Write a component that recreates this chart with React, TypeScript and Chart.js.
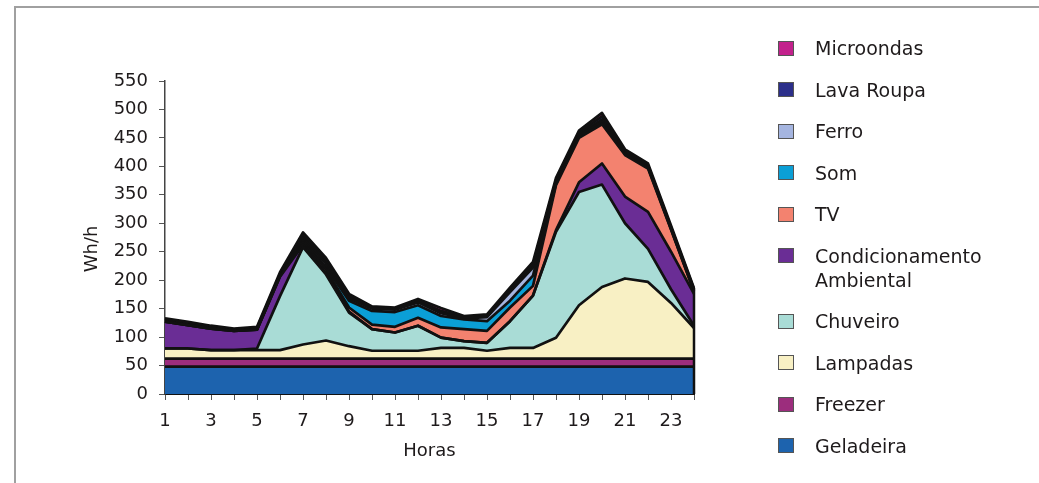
import React, { useEffect, useRef } from 'react';
import { Chart, registerables } from 'chart.js';

Chart.register(...registerables);

// ---- data ----
const hours = ['1', '2', '3', '4', '5', '6', '7', '8', '9', '10', '11', '12', '13', '14', '15', '16', '17', '18', '19', '20', '21', '22', '23', '24'];
const xTickLabels = ['1', '', '3', '', '5', '', '7', '', '9', '', '11', '', '13', '', '15', '', '17', '', '19', '', '21', '', '23', ''];
const yMin = 0;
const yMax = 550;
const yStep = 50;

const geladeira = [48, 48, 48, 48, 48, 48, 48, 48, 48, 48, 48, 48, 48, 48, 48, 48, 48, 48, 48, 48, 48, 48, 48, 48];
const freezer = [14, 14, 14, 14, 14, 14, 14, 14, 14, 14, 14, 14, 14, 14, 14, 14, 14, 14, 14, 14, 14, 14, 14, 14];
const lampadas = [18, 18, 15, 15, 15, 15, 25, 32, 22, 14, 14, 14, 19, 19, 14, 19, 19, 37, 94, 126, 141, 135, 98, 54];
const chuveiro = [0, 0, 0, 0, 3, 95, 171, 116, 59, 38, 32, 44, 18, 12, 14, 47, 92, 186, 199, 180, 97, 58, 24, 4];
const condicionamento = [47, 41, 38, 34, 33, 34, 4, 3, 2, 0, 0, 0, 0, 0, 0, 0, 0, 3, 17, 37, 47, 65, 66, 56];
const tv = [0, 0, 0, 0, 0, 1, 4, 6, 7, 8, 10, 14, 18, 21, 21, 24, 17, 79, 78, 69, 73, 76, 39, 4];
const som = [0, 0, 0, 0, 0, 1, 4, 4, 12, 24, 26, 22, 20, 17, 17, 12, 18, 2, 4, 4, 2, 2, 1, 1];
const ferro = [1, 1, 1, 1, 1, 1, 4, 6, 4, 4, 4, 5, 5, 2, 7, 15, 14, 3, 3, 4, 2, 2, 1, 1];
const lavaRoupa = [2, 2, 2, 1, 2, 2, 5, 5, 4, 2, 2, 3, 4, 2, 2, 4, 5, 4, 3, 6, 3, 2, 2, 2];
const microondas = [3, 3, 2, 2, 2, 3, 5, 5, 4, 2, 2, 3, 5, 2, 3, 4, 5, 4, 3, 6, 3, 3, 3, 2];

const seriesNames = ['Geladeira', 'Freezer', 'Lampadas', 'Chuveiro', 'Condicionamento Ambiental', 'TV', 'Som', 'Ferro', 'Lava Roupa', 'Microondas'];
const legendLines = [['Geladeira'], ['Freezer'], ['Lampadas'], ['Chuveiro'], ['Condicionamento', 'Ambiental'], ['TV'], ['Som'], ['Ferro'], ['Lava Roupa'], ['Microondas']];
const seriesData = [geladeira, freezer, lampadas, chuveiro, condicionamento, tv, som, ferro, lavaRoupa, microondas];

// ---- styles ----
const seriesColors = ['#1d63ae', '#9c2d7d', '#f8f0c4', '#a9dcd6', '#6a2d95', '#f3826f', '#0b9fd6', '#a5b5e0', '#2c2f8a', '#c2218c'];
const FONT = 'DejaVu Sans';
const TEXT = '#1e1a1b';

const edgePlugin = {
  id: 'rightEdge',
  afterDatasetsDraw(chart: any) {
    const n = chart.data.datasets.length;
    const meta = chart.getDatasetMeta(n - 1);
    const pts = meta.data;
    if (!pts.length) return;
    const last = pts[pts.length - 1];
    const yBot = chart.scales.y.getPixelForValue(0);
    const ctx = chart.ctx;
    ctx.save();
    ctx.strokeStyle = '#111';
    ctx.lineWidth = 2.5;
    ctx.beginPath();
    ctx.moveTo(last.x, last.y);
    ctx.lineTo(last.x, yBot);
    ctx.stroke();
    ctx.restore();
  },
};

export default function App() {
  const ref = useRef<HTMLCanvasElement>(null);

  useEffect(() => {
    const chart = new Chart(ref.current as HTMLCanvasElement, {
      type: 'line',
      data: {
        labels: hours,
        datasets: seriesData.map((d, i) => ({
          label: seriesNames[i],
          data: d,
          backgroundColor: seriesColors[i],
          borderColor: '#111',
          borderWidth: 2.7,
          borderJoinStyle: 'round' as const,
          fill: i === 0 ? 'origin' : '-1',
          pointRadius: 0,
          pointHoverRadius: 0,
          tension: 0,
        })),
      },
      options: {
        animation: false,
        responsive: false,
        devicePixelRatio: 1,
        layout: { padding: { left: 75, right: 345, top: 81, bottom: 19 } },
        plugins: {
          legend: { display: false },
          tooltip: { enabled: false },
          filler: { drawTime: 'beforeDatasetsDraw' },
        } as any,
        scales: {
          x: {
            type: 'category',
            offset: false,
            grid: { display: true, drawOnChartArea: false, drawTicks: true, tickLength: 6, color: '#555', lineWidth: 1 },
            border: { display: true, color: '#111', width: 2 },
            ticks: {
              autoSkip: false,
              maxRotation: 0,
              minRotation: 0,
              padding: 11,
              color: TEXT,
              font: { family: FONT, size: 18 },
              callback: (_v: any, i: number) => xTickLabels[i],
            },
            title: { display: true, text: 'Horas', color: TEXT, font: { family: FONT, size: 18 }, padding: { top: 0, bottom: 2 } },
            afterFit: (s: any) => { s.height = 70; },
          },
          y: {
            stacked: true,
            min: yMin,
            max: yMax,
            grid: { display: true, drawOnChartArea: false, drawTicks: true, tickLength: 6, color: '#555', lineWidth: 1 },
            border: { display: true, color: '#444', width: 1.5 },
            ticks: { stepSize: yStep, padding: 11, color: TEXT, font: { family: FONT, size: 18 } },
            title: { display: true, text: 'Wh/h    ', color: TEXT, font: { family: FONT, size: 18 }, padding: { top: 7, bottom: 0 } },
            afterFit: (s: any) => { s.width = 90; },
          },
        },
      } as any,
      plugins: [edgePlugin],
    });
    return () => chart.destroy();
  }, []);

  const legendOrder = seriesNames.map((_, i) => i).reverse();

  return (
    <div style={{ position: 'absolute', left: 0, top: 0, width: 1039, height: 483, overflow: 'hidden', background: '#fff' }}>
      <div style={{ position: 'absolute', left: 14, top: 6, width: 1039, height: 500, borderTop: '2px solid #a0a0a0', borderLeft: '2px solid #a0a0a0' }} />
      <canvas ref={ref} width={1039} height={483} style={{ position: 'absolute', left: 0, top: 0, width: 1039, height: 483 }} />
      <div style={{ position: 'absolute', left: 778, top: 36, fontFamily: FONT, fontSize: 19, color: TEXT }}>
        {legendOrder.map((i) => (
          <div key={i} style={{ display: 'flex', alignItems: 'flex-start', marginBottom: 17.5 }}>
            <div style={{ width: 16, height: 15, marginTop: 4.5, boxSizing: 'border-box', border: '1px solid #555', background: seriesColors[i], flex: '0 0 auto' }} />
            <div style={{ marginLeft: 21, lineHeight: '24px', whiteSpace: 'nowrap' }}>
              {legendLines[i].map((t, k) => (
                <div key={k}>{t}</div>
              ))}
            </div>
          </div>
        ))}
      </div>
    </div>
  );
}
